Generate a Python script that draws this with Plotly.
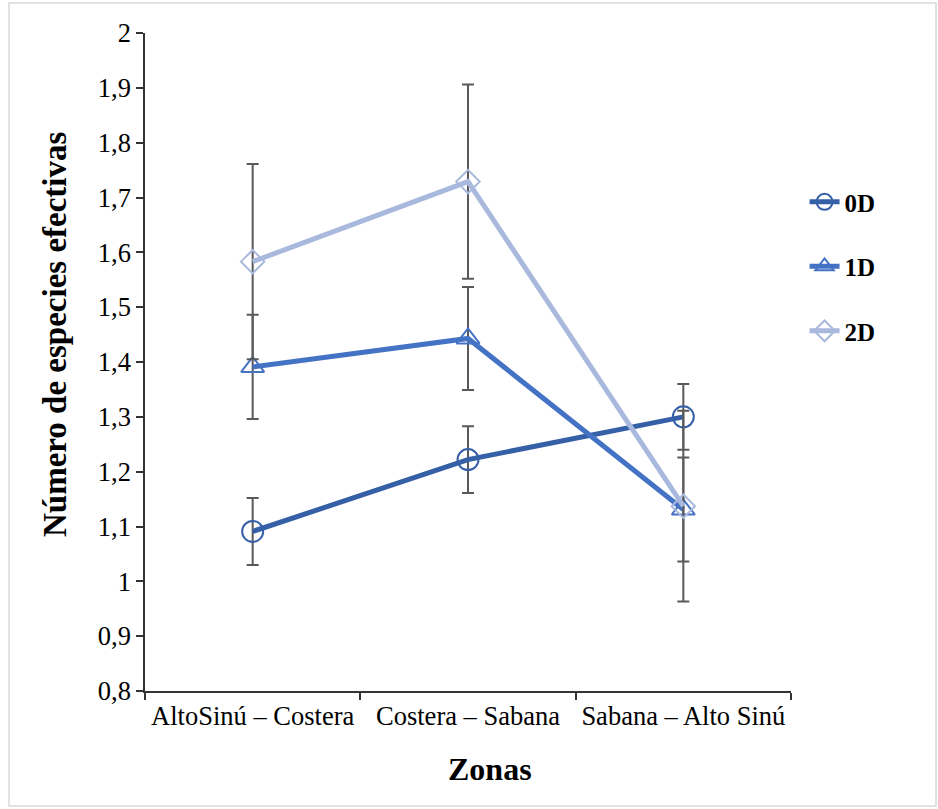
import plotly.graph_objects as go

zonas = ["AltoSinú – Costera", "Costera – Sabana", "Sabana – Alto Sinú"]
series_names = ["0D", "1D", "2D"]
d0 = [1.091, 1.222, 1.300]
d1 = [1.391, 1.443, 1.131]
d2 = [1.583, 1.729, 1.137]
e0 = [0.061, 0.061, 0.060]
e1 = [0.095, 0.094, 0.095]
e2 = [0.178, 0.177, 0.174]

colors = ["#3560A8", "#4472C4", "#A9B9DD"]
symbols = ["circle-open", "triangle-up-open", "diamond-open"]
sizes = [21, 20, 18]
font_family = "Liberation Serif, Times New Roman, serif"

fig = go.Figure()
for name, vals, errs, col, sym, sz in zip(series_names, [d0, d1, d2], [e0, e1, e2], colors, symbols, sizes):
    fig.add_trace(go.Scatter(
        x=zonas, y=vals, name=name, mode="lines+markers",
        legendgroup=name,
        line=dict(color=col, width=5),
        marker=dict(symbol=sym, size=sz, color=col, line=dict(width=2, color=col)),
        error_y=dict(type="data", array=errs, visible=True, color="#595959", thickness=2, width=6),
    ))

fig.update_layout(
    width=938, height=809,
    margin=dict(l=145, r=147, t=33, b=118),
    paper_bgcolor="white", plot_bgcolor="white",
    separators=", ",
    font=dict(family=font_family, size=26, color="#000000"),
    showlegend=True,
    legend=dict(x=1.021, y=0.778, xanchor="left", yanchor="top",
                font=dict(family=font_family, size=25, color="#000000", weight="bold"),
                tracegroupgap=29, bgcolor="rgba(0,0,0,0)"),
    xaxis=dict(
        type="category", range=[-0.5, 2.5], tickson="boundaries",
        ticks="outside", ticklen=7, tickcolor="#333333", tickwidth=1.5,
        showline=True, linecolor="#333333", linewidth=1.5,
        showgrid=False, zeroline=False,
        tickfont=dict(family=font_family, size=26.5, color="#000000"),
    ),
    yaxis=dict(
        range=[0.8, 2.0], dtick=0.1, tick0=0.8,
        ticks="outside", ticklen=7, tickcolor="#333333", tickwidth=1.5,
        showline=True, linecolor="#333333", linewidth=1.5,
        showgrid=False, zeroline=False,
        tickfont=dict(family=font_family, size=26.5, color="#000000"),
    ),
    annotations=[
        dict(text="<b>Número de especies efectivas</b>", textangle=-90,
             xref="paper", yref="paper", x=(55 - 145) / 646, y=(691 - 334) / 658,
             xanchor="center", yanchor="middle", showarrow=False,
             font=dict(family=font_family, size=33, color="#000000")),
        dict(text="<b>Zonas</b>",
             xref="paper", yref="paper", x=(489.5 - 145) / 646, y=(691 - 769) / 658,
             xanchor="center", yanchor="middle", showarrow=False,
             font=dict(family=font_family, size=32, color="#000000")),
    ],
    shapes=[dict(type="rect", xref="paper", yref="paper",
                 x0=(9 - 145) / 646, x1=(936 - 145) / 646,
                 y0=(691 - 806) / 658, y1=(691 - 3) / 658,
                 line=dict(color="#D9D9D9", width=1.5), fillcolor="rgba(0,0,0,0)", layer="below")],
)

fig.write_html("out.html", config={"displayModeBar": False},
               post_script="document.body.style.margin='0';document.body.style.overflow='hidden';")
